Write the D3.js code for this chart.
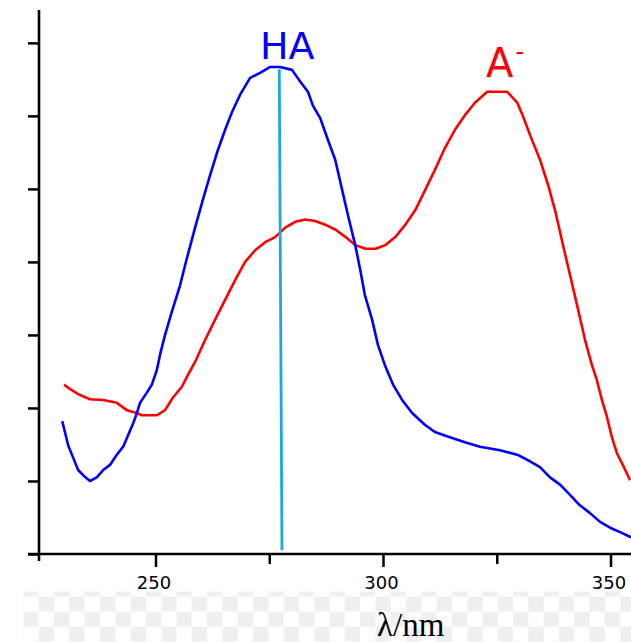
<!DOCTYPE html>
<html>
<head>
<meta charset="utf-8">
<script src="https://cdn.jsdelivr.net/npm/d3@7"></script>
<style>
  html, body { margin: 0; padding: 0; background: #fff; }
  svg { display: block; }
</style>
</head>
<body>
<svg id="chart" width="631" height="642"></svg>
<script>
// ---- data (wavelength in nm, absorbance) ----
const haWavelength = [229.5,230.1,230.8,231.9,233.0,234.1,235.6,237.1,238.5,240.0,241.5,242.9,244.0,245.1,245.9,246.6,248.1,249.2,250.3,251.0,252.1,253.6,255.4,256.9,258.7,260.4,262.0,263.7,265.3,266.8,268.6,270.8,273.0,275.2,277.4,280.0,281.8,283.5,284.6,286.2,287.9,289.5,291.0,292.3,293.9,295.0,296.0,297.6,298.9,300.4,302.2,304.2,306.4,309.2,311.4,314.7,318.0,321.3,325.7,329.5,332.3,334.5,336.7,338.9,341.1,343.2,345.5,347.7,349.9,352.1,354.5];
const haAbsorbance = [0.182,0.167,0.149,0.132,0.115,0.108,0.100,0.105,0.115,0.122,0.136,0.147,0.163,0.179,0.193,0.207,0.221,0.232,0.252,0.273,0.300,0.332,0.368,0.405,0.447,0.485,0.519,0.553,0.581,0.605,0.629,0.652,0.659,0.667,0.667,0.663,0.647,0.633,0.614,0.597,0.567,0.540,0.499,0.464,0.423,0.389,0.355,0.321,0.286,0.259,0.232,0.211,0.193,0.177,0.167,0.160,0.153,0.147,0.142,0.136,0.127,0.119,0.105,0.095,0.081,0.067,0.056,0.044,0.036,0.030,0.023];

const aWavelength = [229.9,231.2,233.0,235.6,238.5,241.5,243.7,245.9,247.0,250.3,252.1,253.8,255.8,257.1,258.7,260.9,263.1,265.3,267.5,269.7,271.9,274.1,276.3,278.5,280.7,282.9,285.1,287.3,289.6,291.8,293.9,296.2,298.4,300.5,302.7,304.9,307.1,309.3,311.4,313.6,315.8,318.0,320.2,322.9,327.3,329.5,330.8,332.3,334.5,336.3,337.8,339.3,341.1,342.9,344.4,345.9,347.0,348.1,349.2,350.3,351.4,352.7,354.3];
const aAbsorbance = [0.232,0.226,0.219,0.212,0.211,0.207,0.197,0.193,0.190,0.190,0.197,0.214,0.229,0.245,0.263,0.293,0.321,0.348,0.375,0.400,0.416,0.427,0.434,0.447,0.455,0.458,0.456,0.451,0.444,0.434,0.423,0.418,0.418,0.423,0.434,0.451,0.471,0.499,0.526,0.556,0.581,0.601,0.618,0.633,0.633,0.618,0.599,0.574,0.540,0.505,0.471,0.430,0.382,0.334,0.293,0.259,0.238,0.211,0.188,0.160,0.138,0.122,0.101];

const markerWavelength = [277.2, 277.8];
const markerAbsorbance = [0.664, 0.005];

const xMajorTicks = [250, 300, 350];
const xMinorTicks = [275, 325];
const yTicks = [0, 0.1, 0.2, 0.3, 0.4, 0.5, 0.6, 0.7];
const xTitle = "λ/nm";
const seriesLabels = ["HA", "A", "-"];

// ---- layout ----
const svg = d3.select("#chart");
const W = 631, H = 642;
const x = d3.scaleLinear().domain([224.4, 354.5]).range([39, 631]);
const y = d3.scaleLinear().domain([0, 0.745]).range([554, 10]);

// checkerboard strip (transparent-background pattern)
const defs = svg.append("defs");
const pat = defs.append("pattern").attr("id", "checker")
  .attr("patternUnits", "userSpaceOnUse")
  .attr("x", 23.5).attr("y", 581.7).attr("width", 30.6).attr("height", 30);
pat.append("rect").attr("width", 30.6).attr("height", 30).attr("fill", "#fff");
pat.append("rect").attr("x", 0).attr("y", 0).attr("width", 15.3).attr("height", 15).attr("fill", "#efefef");
pat.append("rect").attr("x", 15.3).attr("y", 15).attr("width", 15.3).attr("height", 15).attr("fill", "#efefef");
svg.append("rect").attr("x", 23.5).attr("y", 591.7).attr("width", W - 23.5).attr("height", H - 591.7)
  .attr("fill", "url(#checker)");

// curves
const line = d3.line().x(d => x(d[0])).y(d => y(d[1]));
const haData = d3.zip(haWavelength, haAbsorbance);
const aData = d3.zip(aWavelength, aAbsorbance);
const markerData = d3.zip(markerWavelength, markerAbsorbance);

svg.append("path").datum(aData).attr("d", line)
  .attr("fill", "none").attr("stroke", "#ff0000").attr("stroke-width", 2.6).attr("stroke-linejoin", "round");
svg.append("path").datum(haData).attr("d", line)
  .attr("fill", "none").attr("stroke", "#0000ff").attr("stroke-width", 2.6).attr("stroke-linejoin", "round");
svg.append("path").datum(markerData).attr("d", line)
  .attr("fill", "none").attr("stroke", "#1ba8e2").attr("stroke-width", 2.8);

// axes
const axisColor = "#000";
const xAxisMajor = d3.axisBottom(x).tickValues(xMajorTicks).tickSize(13).tickSizeOuter(0).tickPadding(6)
  .tickFormat(d3.format("d"));
const gxMaj = svg.append("g").attr("transform", `translate(0,${y(0)})`).call(xAxisMajor);
gxMaj.select(".domain").remove();
gxMaj.selectAll("line").attr("stroke", axisColor).attr("stroke-width", 2.5);
gxMaj.selectAll("text").attr("font-family", "DejaVu Sans, sans-serif").attr("font-size", 18)
  .attr("fill", "#000").attr("dx", -2).attr("y", null).attr("dy", null).attr("transform", "translate(0,35)");

const xAxisMinor = d3.axisBottom(x).tickValues(xMinorTicks).tickSize(10).tickSizeOuter(0).tickFormat("");
const gxMin = svg.append("g").attr("transform", `translate(0,${y(0)})`).call(xAxisMinor);
gxMin.select(".domain").remove();
gxMin.selectAll("line").attr("stroke", axisColor).attr("stroke-width", 2.5);

const yAxis = d3.axisLeft(y).tickValues(yTicks).tickSize(11).tickSizeOuter(0).tickFormat("");
const gy = svg.append("g").attr("transform", `translate(${x.range()[0]},0)`).call(yAxis);
gy.select(".domain").remove();
gy.selectAll("line").attr("stroke", axisColor).attr("stroke-width", 2.5);

// axis lines
svg.append("line").attr("x1", x.range()[0] - 11).attr("x2", W).attr("y1", y(0)).attr("y2", y(0))
  .attr("stroke", axisColor).attr("stroke-width", 2.6);
svg.append("line").attr("x1", x.range()[0]).attr("x2", x.range()[0]).attr("y1", y.range()[1]).attr("y2", y(0) + 7)
  .attr("stroke", axisColor).attr("stroke-width", 2.6);

// axis title
svg.append("text").attr("x", 377).attr("y", 636)
  .attr("font-family", "Liberation Serif, Times New Roman, serif").attr("font-size", 33)
  .attr("fill", "#000").text(xTitle);

// series labels
svg.append("text").attr("x", 260).attr("y", 59)
  .attr("font-family", "DejaVu Sans, sans-serif").attr("font-size", 38)
  .attr("fill", "#0000ff").text(seriesLabels[0]);
svg.append("text").attr("x", 486).attr("y", 77)
  .attr("font-family", "DejaVu Sans, sans-serif").attr("font-size", 40)
  .attr("fill", "#ff0000").text(seriesLabels[1]);
svg.append("text").attr("x", 515.5).attr("y", 60)
  .attr("font-family", "DejaVu Sans, sans-serif").attr("font-size", 24)
  .attr("fill", "#ff0000").text(seriesLabels[2]);
</script>
</body>
</html>
